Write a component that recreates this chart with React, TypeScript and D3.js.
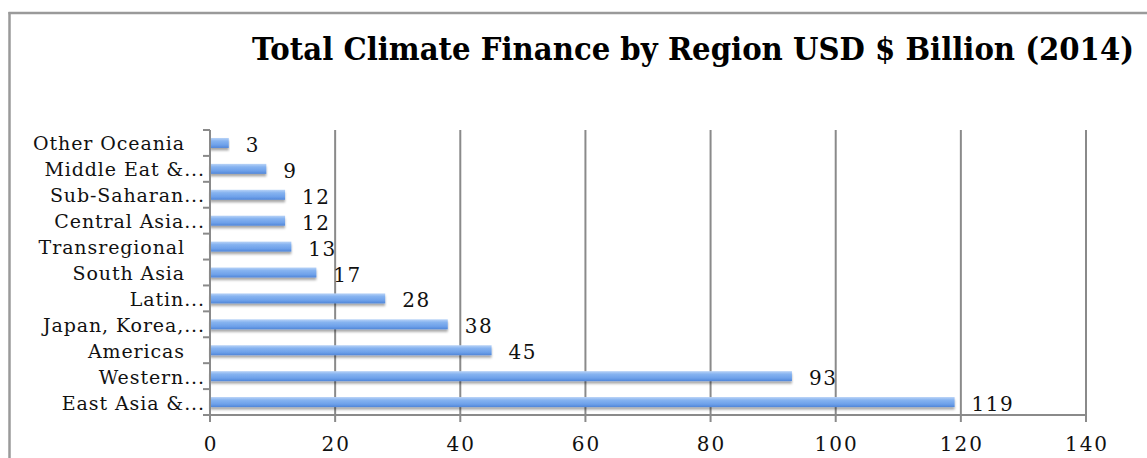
import React from "react";
import * as d3 from "d3";

const categories = [
  "Other Oceania",
  "Middle Eat &...",
  "Sub-Saharan...",
  "Central Asia...",
  "Transregional",
  "South Asia",
  "Latin...",
  "Japan, Korea,...",
  "Americas",
  "Western...",
  "East Asia &...",
];
const values = [3, 9, 12, 12, 13, 17, 28, 38, 45, 93, 119];
const xTicks = [0, 20, 40, 60, 80, 100, 120, 140];
const title = "Total Climate Finance by Region USD $ Billion (2014)";

const W = 1147;
const H = 458;
const left = 210;
const right = 1086;
const top = 130;
const bottom = 415;

export default function App() {
  const titleRef = React.useRef<SVGTextElement>(null);
  const [sx, setSx] = React.useState(0.88);
  React.useLayoutEffect(() => {
    if (titleRef.current) {
      const w = titleRef.current.getComputedTextLength();
      if (w > 0) setSx(882 / w);
    }
  }, []);
  const x = d3.scaleLinear().domain([0, 140]).range([left, right]);
  const y = d3.scaleBand<string>().domain(categories).range([top, bottom]).paddingInner(0.6).paddingOuter(0.3);
  const boundaries = d3.range(categories.length + 1).map((i) => top + (bottom - top) * (i / categories.length));
  const bh = 10;
  const serif = "'DejaVu Serif', serif";
  return (
    <svg width={W} height={H} style={{ position: "absolute", left: 0, top: 0, background: "#fff" }}>
      <defs>
        <linearGradient id="barg" x1="0" y1="0" x2="0" y2="1">
          <stop offset="0%" stopColor="#b9d3f7" />
          <stop offset="30%" stopColor="#86b3f0" />
          <stop offset="70%" stopColor="#6ea1ea" />
          <stop offset="100%" stopColor="#5186d8" />
        </linearGradient>
        <filter id="shadow" x="-5%" y="-50%" width="110%" height="250%">
          <feDropShadow dx="0" dy="2.5" stdDeviation="1.3" floodColor="#000" floodOpacity="0.35" />
        </filter>
      </defs>
      {/* frame */}
      <line x1={9.5} x2={9.5} y1={12} y2={H} stroke="#9a9a9a" strokeWidth={2.5} />
      <line x1={8.5} x2={W} y1={13} y2={13} stroke="#9a9a9a" strokeWidth={2.5} />
      <g transform={`translate(252,60) scale(${sx},1)`}>
        <text ref={titleRef} x={0} y={0} fontFamily={serif} fontWeight="bold" fontSize={31} fill="#000">{title}</text>
      </g>
      {/* gridlines */}
      {xTicks.filter((t) => t > 0).map((t) => (
        <line key={"g" + t} x1={x(t)} x2={x(t)} y1={top} y2={bottom + 7} stroke="#8a8a8a" strokeWidth={2} />
      ))}
      {/* bars */}
      {categories.map((c, i) => {
        const cy = (y(c) as number) + y.bandwidth() / 2;
        return (
          <rect key={"b" + c} x={x(0)} y={cy - bh / 2} width={x(values[i]) - x(0)} height={bh}
            fill="url(#barg)" filter="url(#shadow)" />
        );
      })}
      {/* axes */}
      <line x1={left} x2={left} y1={top} y2={bottom + 7} stroke="#8a8a8a" strokeWidth={2} />
      <line x1={left} x2={right} y1={bottom} y2={bottom} stroke="#8a8a8a" strokeWidth={2} />
      {boundaries.map((b, i) => (
        <line key={"t" + i} x1={left - 7} x2={left} y1={b} y2={b} stroke="#8a8a8a" strokeWidth={2} />
      ))}
      {/* category labels */}
      {categories.map((c) => {
        const cy = (y(c) as number) + y.bandwidth() / 2;
        const ax = c.endsWith("...") ? 205 : 185;
        return (
          <text key={"l" + c} x={ax} y={cy + 7.5} textAnchor="end" fontFamily={serif} fontSize={19}
            letterSpacing={0.9} fill="#111">{c}</text>
        );
      })}
      {/* value labels */}
      {categories.map((c, i) => {
        const cy = (y(c) as number) + y.bandwidth() / 2;
        return (
          <text key={"v" + c} x={x(values[i]) + 17} y={cy + 9} fontFamily={serif} fontSize={20}
            letterSpacing={1.5} fill="#111">{values[i]}</text>
        );
      })}
      {/* x tick labels */}
      {xTicks.map((t) => (
        <text key={"x" + t} x={x(t) + 1} y={451} textAnchor="middle" fontFamily={serif} fontSize={20}
          letterSpacing={2} fill="#111">{t}</text>
      ))}
    </svg>
  );
}
